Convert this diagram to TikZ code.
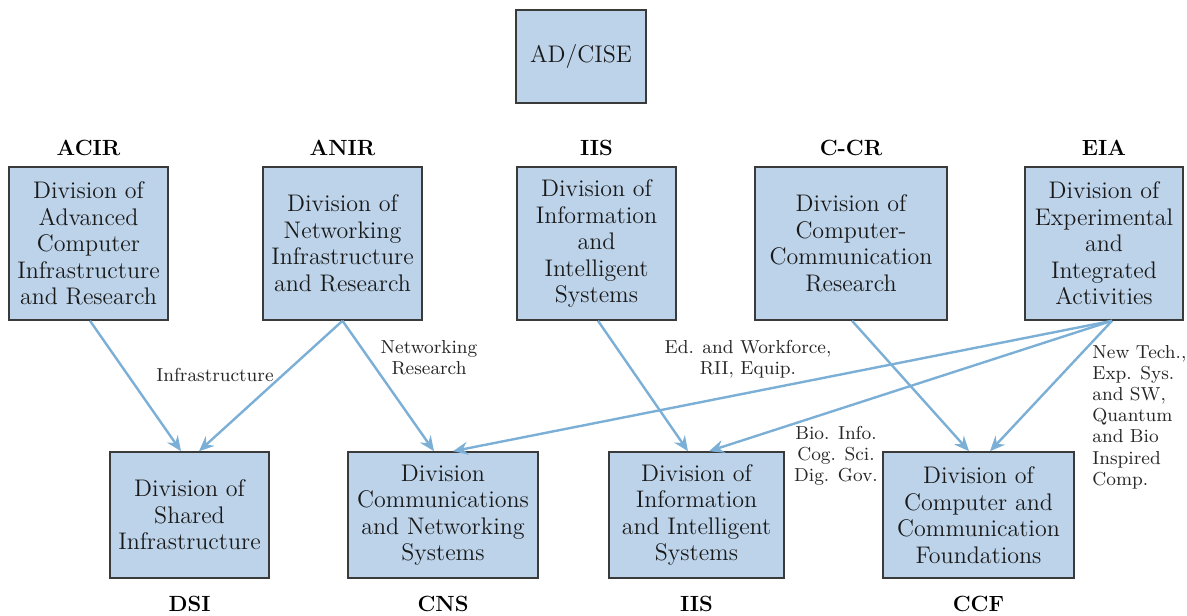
\documentclass[tikz,border=0pt]{standalone}
\usepackage{tikz}
\usetikzlibrary{arrows.meta, positioning}

\definecolor{boxblue}{HTML}{BDD3EA}
\definecolor{linkblue}{HTML}{7BAFD6}
\definecolor{boxedge}{HTML}{3A3A3A}

\tikzset{
  division/.style={draw=boxedge, line width=0.8pt, fill=boxblue, align=center,
    inner sep=1pt, text=black!90, font=\fontsize{12}{13.25}\selectfont},
  abbrev/.style={anchor=base, inner sep=0pt, font=\fontsize{11}{13}\selectfont\bfseries},
  note/.style={align=center, inner sep=1pt, text=black!85, font=\fontsize{9.4}{10.6}\selectfont},
  link/.style={->, draw=linkblue, line width=1.2pt}
}

\begin{document}
\begin{tikzpicture}[x=0.5pt, y=-0.5pt, >={Stealth[length=7.5pt, width=6.5pt, inset=2.5pt]}]
\useasboundingbox (0,0) rectangle (1187,615);

% head office
\node[division, minimum width=65pt, minimum height=46.5pt] (adcise) at (581,56.5) {AD/CISE};

% old divisions
\node[division, minimum width=79.5pt, minimum height=76.5pt] (acir) at (88.5,243.5)
  {Division of\\Advanced\\Computer\\Infrastructure\\and Research};
\node[division, minimum width=79.5pt, minimum height=76.5pt] (anir) at (342.5,243.5)
  {Division of\\Networking\\Infrastructure\\and Research};
\node[division, minimum width=79.5pt, minimum height=76.5pt] (iisold) at (596.5,243.5)
  {Division of\\Information\\and\\Intelligent\\Systems};
\node[division, minimum width=96pt, minimum height=76.5pt] (ccr) at (851,243.5)
  {Division of\\Computer-\\Communication\\Research};
\node[division, minimum width=79pt, minimum height=76.5pt] (eia) at (1104,243.5)
  {Division of\\Experimental\\and\\Integrated\\Activities};

\node[abbrev] at ([yshift=5.5pt]acir.north) {ACIR};
\node[abbrev] at ([yshift=5.5pt]anir.north) {ANIR};
\node[abbrev] at ([yshift=5.5pt]iisold.north) {IIS};
\node[abbrev] at ([yshift=5.5pt]ccr.north) {C-CR};
\node[abbrev] at ([yshift=5.5pt]eia.north) {EIA};

% new divisions
\node[division, minimum width=79.5pt, minimum height=63pt] (dsi) at (189.5,515)
  {Division of\\Shared\\Infrastructure};
\node[division, minimum width=95pt, minimum height=63pt] (cns) at (443,515)
  {Division\\Communications\\and Networking\\Systems};
\node[division, minimum width=87.5pt, minimum height=63pt] (iisnew) at (696.5,515)
  {Division of\\Information\\and Intelligent\\Systems};
\node[division, minimum width=95.5pt, minimum height=63pt] (ccf) at (978.5,515)
  {Division of\\Computer and\\Communication\\Foundations};

\node[abbrev] at ([yshift=-16.25pt]dsi.south) {DSI};
\node[abbrev] at ([yshift=-16.25pt]cns.south) {CNS};
\node[abbrev] at ([yshift=-16.25pt]iisnew.south) {IIS};
\node[abbrev] at ([yshift=-16.25pt]ccf.south) {CCF};

% notes on the links
\node[note] (infranote) at (215,375) {Infrastructure};
\node[note] (netnote) at (429,358) {Networking\\Research};
\node[note] (ednote) at (748,359) {Ed. and Workforce,\\RII, Equip.};
\node[note] (bionote) at (836,456) {Bio. Info.\\Cog. Sci.\\Dig. Gov.};
\node[note, align=left, anchor=west] (technote) at (1090,417)
  {New Tech.,\\Exp. Sys.\\and SW,\\Quantum\\and Bio\\Inspired\\Comp.};

% links
\draw[link] ([xshift=0.75pt]acir.south) -- ([xshift=-4.25pt]dsi.north);
\draw[link] (anir.south) -- ([xshift=4.75pt]dsi.north);
\draw[link] (anir.south) -- ([xshift=-4.5pt]cns.north);
\draw[link] ([xshift=4pt]eia.south) -- ([xshift=5pt]cns.north);
\draw[link] ([xshift=0.75pt]iisold.south) -- ([xshift=-4.25pt]iisnew.north);
\draw[link] ([xshift=4pt]eia.south) -- ([xshift=6.25pt]iisnew.north);
\draw[link] ([xshift=0.5pt]ccr.south) -- ([xshift=-4.75pt]ccf.north);
\draw[link] ([xshift=4pt]eia.south) -- ([xshift=5.75pt]ccf.north);
\end{tikzpicture}
\end{document}
